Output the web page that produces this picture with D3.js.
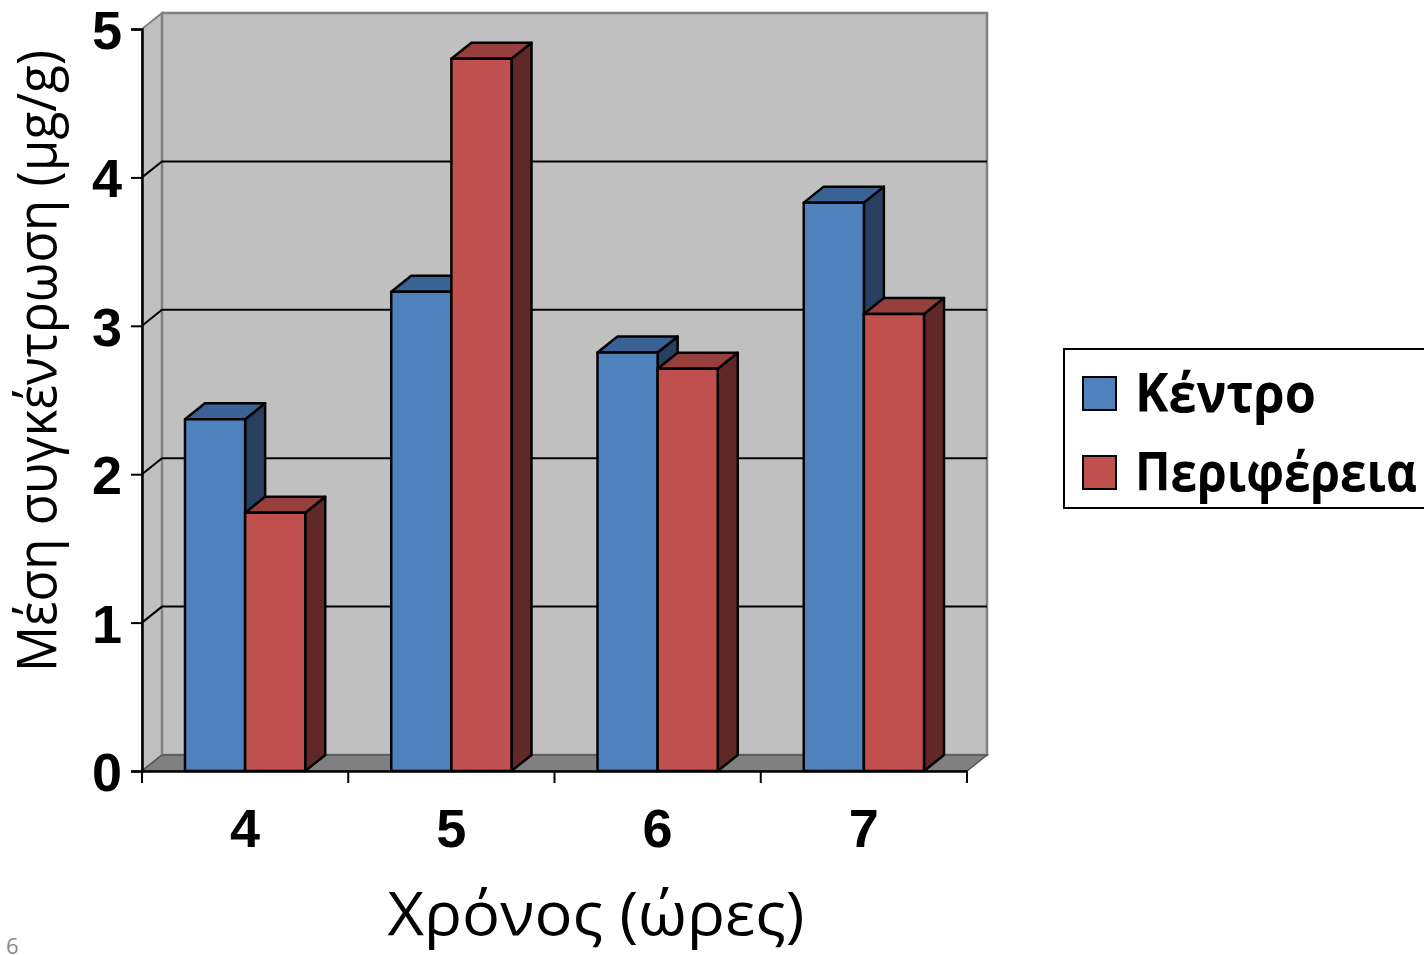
<!DOCTYPE html>
<html>
<head>
<meta charset="utf-8">
<script src="https://cdn.jsdelivr.net/npm/d3@7"></script>
<style>
  body { margin: 0; background: #fff; }
  svg { display: block; }
</style>
</head>
<body>
<svg id="chart"></svg>
<script>
// chart values
const categories = ['4', '5', '6', '7'];
const seriesNames = ['Κέντρο', 'Περιφέρεια'];
const kentro = [2.37, 3.23, 2.82, 3.83];
const periferia = [1.74, 4.80, 2.71, 3.08];
const yTicks = [0, 1, 2, 3, 4, 5];
const xTitle = 'Χρόνος (ώρες)';
const yTitle = 'Μέση συγκέντρωση (μg/g)';

const width = 1424, height = 955;
const depth = {dx: 20, dy: -16};   // 3d offset of the back wall

const colors = {
  'Κέντρο':     {front: '#4f81bd', top: '#3b6295', side: '#283f5f'},
  'Περιφέρεια': {front: '#c0504d', top: '#963f3d', side: '#612828'}
};

const svg = d3.select('#chart')
  .attr('width', width)
  .attr('height', height);

// scales, front plane
const x = d3.scaleBand()
  .domain(categories)
  .range([142, 967])
  .padding(0);

const xInner = d3.scaleBand()
  .domain(seriesNames)
  .range([43, x.bandwidth() - 43])
  .padding(0);

const y = d3.scaleLinear()
  .domain([0, 5])
  .range([771, 29]);

const [x0, x1] = x.range();
const yBottom = y(0), yTop = y(5);

// walls
const walls = svg.append('g').attr('class', 'walls');

walls.append('polygon')
  .attr('points', [[x0, yTop], [x0 + depth.dx, yTop + depth.dy], [x0 + depth.dx, yBottom + depth.dy], [x0, yBottom]].join(' '))
  .attr('fill', '#c0c0c0')
  .attr('stroke', '#808080')
  .attr('stroke-width', 2);

walls.append('rect')
  .attr('x', x0 + depth.dx)
  .attr('y', yTop + depth.dy)
  .attr('width', x1 - x0)
  .attr('height', yBottom - yTop)
  .attr('fill', '#c0c0c0')
  .attr('stroke', '#808080')
  .attr('stroke-width', 2.5);

// floor
walls.append('polygon')
  .attr('points', [[x0, yBottom], [x1, yBottom], [x1 + depth.dx, yBottom + depth.dy], [x0 + depth.dx, yBottom + depth.dy]].join(' '))
  .attr('fill', '#808080')
  .attr('stroke', '#555')
  .attr('stroke-width', 1.5);

// gridlines: diagonal across the side wall, then flat across the back wall
const grid = svg.append('g').attr('class', 'grid');
grid.selectAll('path')
  .data(yTicks.filter(d => d > 0 && d < 5))
  .join('path')
  .attr('d', d => `M${x0},${y(d)}L${x0 + depth.dx},${y(d) + depth.dy}L${x1 + depth.dx},${y(d) + depth.dy}`)
  .attr('fill', 'none')
  .attr('stroke', '#000')
  .attr('stroke-width', 2);

// bars
const rows = categories.map((c, i) => ({cat: c, values: [
  {name: seriesNames[0], value: kentro[i]},
  {name: seriesNames[1], value: periferia[i]}
]}));

const bars = svg.append('g').attr('class', 'bars');
rows.forEach(row => {
  row.values.forEach(d => {
    const bx = x(row.cat) + xInner(d.name);
    const bw = xInner.bandwidth();
    const by = y(d.value);
    const g = bars.append('g')
      .attr('stroke', '#000')
      .attr('stroke-width', 2.5)
      .attr('stroke-linejoin', 'round');
    // side face
    g.append('polygon')
      .attr('points', [[bx + bw, by], [bx + bw + depth.dx, by + depth.dy], [bx + bw + depth.dx, yBottom + depth.dy], [bx + bw, yBottom]].join(' '))
      .attr('fill', colors[d.name].side);
    // top face
    g.append('polygon')
      .attr('points', [[bx, by], [bx + depth.dx, by + depth.dy], [bx + bw + depth.dx, by + depth.dy], [bx + bw, by]].join(' '))
      .attr('fill', colors[d.name].top);
    // front face
    g.append('rect')
      .attr('x', bx)
      .attr('y', by)
      .attr('width', bw)
      .attr('height', yBottom - by)
      .attr('fill', colors[d.name].front);
  });
});

// y axis
const yAxis = d3.axisLeft(y)
  .tickValues(yTicks)
  .tickSize(11)
  .tickPadding(9)
  .tickFormat(d3.format('d'));

const yAxisG = svg.append('g')
  .attr('transform', `translate(${x0},0)`)
  .call(yAxis);

// x axis: labels at the centre of each band, ticks at the band edges
const xAxis = d3.axisBottom(x)
  .tickSize(0)
  .tickPadding(38);

const xAxisG = svg.append('g')
  .attr('transform', `translate(0,${yBottom})`)
  .call(xAxis);

xAxisG.selectAll('.tick-edge')
  .data(categories.map(c => x(c)).concat([x1]))
  .join('line')
  .attr('class', 'tick-edge')
  .attr('x1', d => d).attr('x2', d => d)
  .attr('y1', 0).attr('y2', 12)
  .attr('stroke', '#000')
  .attr('stroke-width', 2);

[yAxisG, xAxisG].forEach(g => {
  g.select('.domain').attr('stroke', '#000').attr('stroke-width', 2.5);
  g.selectAll('.tick line').attr('stroke', '#000').attr('stroke-width', 2);
  g.selectAll('.tick text')
    .attr('fill', '#000')
    .style('font-family', '"Liberation Sans", Arial, sans-serif')
    .style('font-weight', 'bold')
    .style('font-size', '54px');
});
yAxisG.selectAll('.tick text').attr('dy', '0.36em');
xAxisG.selectAll('.tick text').attr('dy', '0.71em');

// axis titles
svg.append('text')
  .attr('x', 596)
  .attr('y', 935)
  .attr('text-anchor', 'middle')
  .attr('textLength', 417)
  .attr('lengthAdjust', 'spacingAndGlyphs')
  .style('font-family', '"Open Sans", sans-serif')
  .style('font-size', '60px')
  .text(xTitle);

svg.append('text')
  .attr('transform', 'translate(56,361) rotate(-90)')
  .attr('text-anchor', 'middle')
  .attr('textLength', 622)
  .attr('lengthAdjust', 'spacingAndGlyphs')
  .style('font-family', '"Open Sans", sans-serif')
  .style('font-size', '55px')
  .text(yTitle);

// legend
const legend = svg.append('g').attr('class', 'legend');
legend.append('rect')
  .attr('x', 1064)
  .attr('y', 349)
  .attr('width', 370)
  .attr('height', 159)
  .attr('fill', '#fff')
  .attr('stroke', '#000')
  .attr('stroke-width', 2);

const legendWidths = [181, 282];
const legendItems = legend.selectAll('g.item')
  .data(seriesNames)
  .join('g')
  .attr('class', 'item')
  .attr('transform', (d, i) => `translate(1083,${377 + i * 79})`);

legendItems.append('rect')
  .attr('width', 33)
  .attr('height', 33)
  .attr('fill', d => colors[d].front)
  .attr('stroke', '#000')
  .attr('stroke-width', 2);

legendItems.append('text')
  .attr('x', 52)
  .attr('y', 35)
  .attr('textLength', (d, i) => legendWidths[i])
  .attr('lengthAdjust', 'spacingAndGlyphs')
  .style('font-family', '"Open Sans", sans-serif')
  .style('font-weight', 'bold')
  .style('font-size', '54px')
  .text(d => d);

// slide number
svg.append('text')
  .attr('x', 6)
  .attr('y', 954)
  .attr('fill', '#898989')
  .style('font-family', '"Open Sans", sans-serif')
  .style('font-size', '22px')
  .text('6');
</script>
</body>
</html>
